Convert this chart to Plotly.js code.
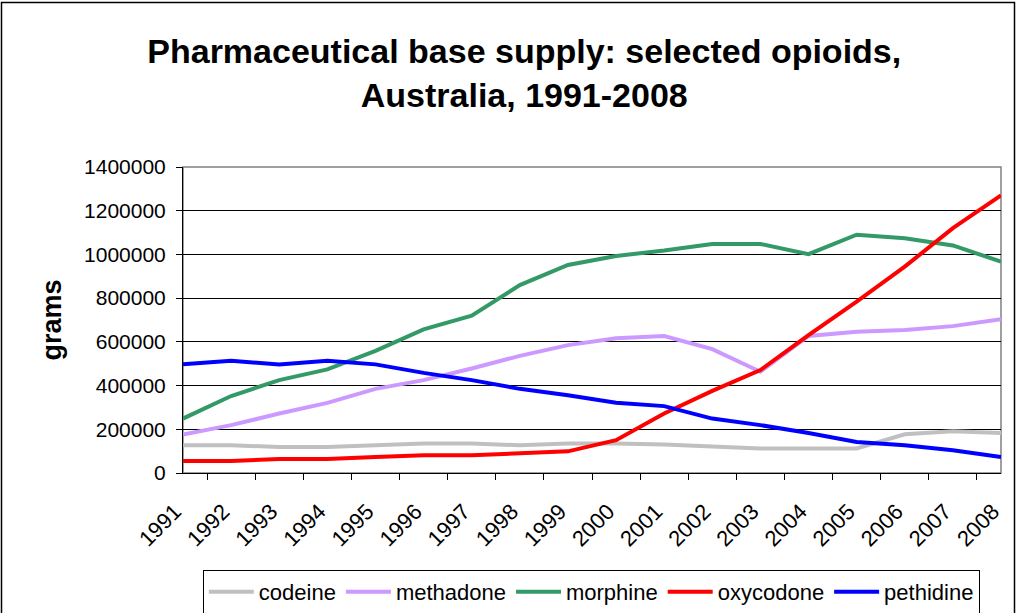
<!DOCTYPE html>
<html><head><meta charset="utf-8">
<script src="https://cdn.plot.ly/plotly-3.0.1.min.js"></script>
<style>html,body{margin:0;padding:0;background:#fff}#chart{width:1016px;height:613px}</style>
</head><body><div id="chart"></div>
<script>
const years = ["1991","1992","1993","1994","1995","1996","1997","1998","1999","2000","2001","2002","2003","2004","2005","2006","2007","2008"];
const codeine   = [127000,127000,119000,119000,127000,135000,135000,127000,135000,135000,130000,119000,112000,112000,112000,177000,191000,183000];
const methadone = [176000,219000,272000,321000,385000,425000,478000,536000,585000,616000,627000,567000,463000,627000,646000,654000,672000,703000];
const morphine  = [249000,352000,425000,474000,559000,657000,720000,860000,952000,993000,1018000,1048000,1048000,1001000,1090000,1074000,1041000,967000];
const oxycodone = [55000,55000,64000,64000,73000,81000,81000,90000,99000,150000,272000,376000,471000,631000,784000,944000,1120000,1270000];
const pethidine = [497000,513000,497000,513000,497000,458000,425000,385000,356000,321000,306000,249000,219000,183000,142000,127000,104000,73000];
const seriesNames = ["codeine","methadone","morphine","oxycodone","pethidine"];
const seriesData = [codeine, methadone, morphine, oxycodone, pethidine];
const colors = ["#C0C0C0","#CC99FF","#339966","#FF0000","#0000FF"];
const yTicks = [0,200000,400000,600000,800000,1000000,1200000,1400000];

const traces = seriesNames.map((n,i)=>({
  x: years, y: seriesData[i], name: n, type: 'scatter', mode: 'lines',
  line: {color: colors[i], width: 4}
}));

const L=183, R=1001, T=167, B=473;
const px = v => (v - L)/(R - L);
const py = v => (B - v)/(B - T);

const layout = {
  width: 1016, height: 613,
  margin: {l: L, r: 1016-R, t: T, b: 613-B, pad: 0},
  paper_bgcolor: '#fff', plot_bgcolor: '#fff',
  font: {family: 'Liberation Sans, Arial, sans-serif', color: '#000', size: 21},
  title: {text: '<b>Pharmaceutical base supply: selected opioids,<br>Australia, 1991-2008</b>',
          font: {size: 34, family: 'Liberation Sans, Arial, sans-serif', color: '#000'},
          xref: 'container', x: 0.516, xanchor: 'center', yref: 'container', y: 0.897, yanchor: 'top'},
  xaxis: {type: 'category', tickson: 'boundaries', showgrid: false, ticks: 'outside', ticklen: 6,
          tickcolor: '#000', showline: true, linecolor: '#000', linewidth: 1, tickangle: -45,
          tickfont: {size: 22}, ticklabelstandoff: 16, ticklabelshift: -8, zeroline: false, fixedrange: true},
  yaxis: {range: [0, 1400000], tickvals: yTicks, ticktext: yTicks.map(String), showgrid: true,
          gridcolor: '#000', gridwidth: 1, ticks: 'outside', ticklen: 6, tickcolor: '#000',
          showline: true, linecolor: '#000', linewidth: 1, zeroline: false, tickfont: {size: 21},
          ticklabelstandoff: 6,
          title: {text: '<b>grams</b>', font: {size: 27}, standoff: 14}},
  showlegend: true,
  legend: {orientation: 'h', xref: 'container', x: 0.582, xanchor: 'center', yref: 'container', y: 1 - 570/613,
           yanchor: 'top', bordercolor: '#000', borderwidth: 1, font: {size: 22}, bgcolor: '#fff',
           itemwidth: 45, tracegroupgap: 0},
  shapes: [
    {type: 'rect', xref: 'paper', yref: 'paper', x0: 0, x1: 1, y0: 0, y1: 1,
     line: {color: '#808080', width: 1.5}, layer: 'below'},
    {type: 'rect', xref: 'paper', yref: 'paper', x0: px(1.5), x1: px(1014.5), y0: py(625), y1: py(2.5),
     line: {color: '#000', width: 1.5}, fillcolor: 'rgba(0,0,0,0)'}
  ]
};
Plotly.newPlot('chart', traces, layout, {displayModeBar: false, staticPlot: true});
</script></body></html>
